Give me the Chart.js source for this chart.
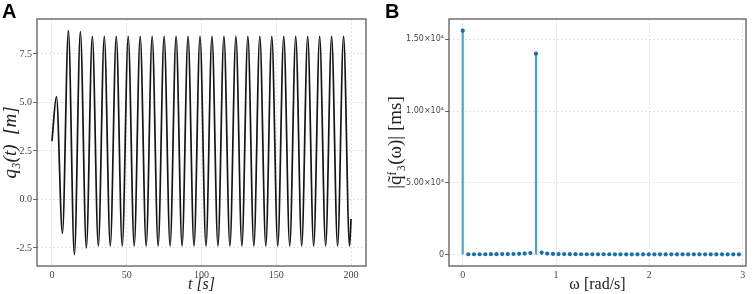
<!DOCTYPE html>
<html>
<head>
<meta charset="utf-8">
<script src="https://cdn.jsdelivr.net/npm/chart.js@4.4.1/dist/chart.umd.min.js"></script>
<style>
  body { margin: 0; background: #fff; }
  #wrap { position: relative; width: 754px; height: 294px; }
  .panel { position: absolute; top: 0; }
  .tag { position: absolute; top: 1px; font: bold 20px 'Liberation Sans', Arial, sans-serif; line-height: 20px; color: #000; }
</style>
</head>
<body>
<div id="wrap">
  <div class="panel" style="left:0"><canvas id="chartA" width="377" height="294"></canvas></div>
  <div class="panel" style="left:377px"><canvas id="chartB" width="377" height="294"></canvas></div>
  <div class="tag" style="left:2px">A</div>
  <div class="tag" style="left:385px">B</div>
</div>
<script>
// A: turning points of q3(t) (t in s, q in m)
const tA = [0, 3, 7, 11, 15, 19, 23, 27, 31, 35, 39, 43, 47, 51, 55, 59, 63, 67, 71, 75, 79, 83, 87, 91, 95,
  99, 103, 107, 111, 115, 119, 123, 127, 131, 135, 139, 143, 147, 151, 155, 159, 163, 167, 171, 175,
  179, 183, 187, 191, 195, 199, 200];
const qA = [3.0, 5.3, -1.75, 8.7, -2.85, 8.65, -2.5, 8.4, -2.4, 8.4, -2.4, 8.4, -2.4, 8.4, -2.4, 8.4, -2.4,
  8.4, -2.4, 8.4, -2.4, 8.4, -2.4, 8.4, -2.4, 8.4, -2.4, 8.4, -2.4, 8.4, -2.4, 8.4, -2.4, 8.4, -2.4,
  8.4, -2.4, 8.4, -2.4, 8.4, -2.4, 8.4, -2.4, 8.4, -2.4, 8.4, -2.4, 8.4, -2.4, 8.4, -2.4, -1.0];
const xTicksA = [0, 50, 100, 150, 200];
const yTicksA = [-2.5, 0, 2.5, 5, 7.5];

// B: spectrum magnitude (omega in rad/s)
const wB = [0, 0.060, 0.121, 0.181, 0.242, 0.302, 0.362, 0.423, 0.483, 0.544, 0.604, 0.664, 0.725,
  0.785, 0.846, 0.906, 0.967, 1.027, 1.087, 1.148, 1.208, 1.269, 1.329, 1.389, 1.450, 1.510, 1.571,
  1.631, 1.691, 1.752, 1.812, 1.873, 1.933, 1.994, 2.054, 2.114, 2.175, 2.235, 2.296, 2.356, 2.416,
  2.477, 2.537, 2.598, 2.658, 2.718, 2.779, 2.839, 2.900, 2.960];
const magB = [15600, 30, 30, 30, 30, 35, 35, 40, 45, 50, 60, 80, 120, 14000, 150, 80, 55, 45, 40, 35,
  35, 30, 30, 30, 30, 30, 30, 25, 25, 25, 25, 25, 25, 25, 25, 25, 25, 25, 25, 25,
  25, 25, 25, 25, 25, 25, 25, 25, 25, 25];
const xTicksB = [0, 1, 2, 3];
const yTicksB = [0, 5000, 10000, 15000];
const yLabelsB = ['0', '5.00×10³', '1.00×10⁴', '1.50×10⁴'];

const serif = "'Liberation Serif', 'DejaVu Serif', serif";
const gridColor = '#e2e2e2';

// full box round the plot area
const frame = {
  id: 'frame',
  afterDraw(chart) {
    const { ctx, chartArea: a } = chart;
    ctx.save();
    ctx.strokeStyle = '#666';
    ctx.lineWidth = 1.4;
    ctx.strokeRect(a.left, a.top, a.right - a.left, a.bottom - a.top);
    ctx.restore();
  }
};

function fixTicks(list) {
  return s => { s.ticks = list.map(v => ({ value: v })); };
}

new Chart(document.getElementById('chartA').getContext('2d'), {
  type: 'line',
  data: {
    datasets: [{
      data: tA.map((t, i) => ({ x: t, y: qA[i] })),
      borderColor: '#151515',
      borderWidth: 1.7,
      pointRadius: 0,
      cubicInterpolationMode: 'monotone',
      fill: false
    }]
  },
  options: {
    responsive: false,
    animation: false,
    layout: { padding: { left: 0, right: 11, top: 19, bottom: 0 } },
    plugins: { legend: { display: false }, tooltip: { enabled: false } },
    scales: {
      x: {
        type: 'linear', min: -10, max: 210,
        afterBuildTicks: fixTicks(xTicksA),
        afterFit: s => { s.height = 28; },
        grid: { color: gridColor, drawTicks: false },
        border: { display: false, dash: [2, 2] },
        ticks: { padding: 3, color: '#444', font: { family: serif, size: 10 }, maxRotation: 0 },
        title: { display: true, text: 't [s]', font: { family: serif, size: 16, style: 'italic' }, padding: 0, color: '#222' }
      },
      y: {
        type: 'linear', min: -3.43, max: 9.3,
        afterBuildTicks: fixTicks(yTicksA),
        afterFit: s => { s.width = 37; },
        grid: { color: gridColor, tickLength: 4, tickColor: '#666' },
        border: { display: false, dash: [2, 2] },
        ticks: { padding: 1, color: '#444', font: { family: serif, size: 10 }, callback: v => v.toFixed(1) },
        title: { display: true, text: 'q₃(t)  [m]', font: { family: serif, size: 19, style: 'italic' }, padding: { top: 0 }, color: '#222' }
      }
    }
  },
  plugins: [frame]
});

const ptsB = wB.map((w, i) => ({ x: w, y: magB[i] }));

new Chart(document.getElementById('chartB').getContext('2d'), {
  data: {
    datasets: [
      {
        type: 'line', data: ptsB, showLine: false, order: 0,
        pointRadius: 2.1, pointBackgroundColor: 'rgb(22,112,170)', pointBorderWidth: 0
      },
      {
        type: 'bar', data: ptsB, order: 1,
        backgroundColor: 'rgb(72,166,206)', barThickness: 1.5, grouped: false
      }
    ]
  },
  options: {
    responsive: false,
    animation: false,
    layout: { padding: { left: 0, right: 8, top: 19, bottom: 0 } },
    plugins: { legend: { display: false }, tooltip: { enabled: false } },
    scales: {
      x: {
        type: 'linear', min: -0.147, max: 3.036, offset: false,
        afterBuildTicks: fixTicks(xTicksB),
        afterFit: s => { s.height = 28; },
        grid: { color: gridColor, drawTicks: false, offset: false },
        border: { display: false, dash: [2, 2] },
        ticks: { padding: 3, color: '#444', font: { family: serif, size: 10 }, maxRotation: 0 },
        title: { display: true, text: 'ω [rad/s]', font: { family: serif, size: 16 }, padding: 0, color: '#222' }
      },
      y: {
        type: 'linear', min: -787, max: 16414,
        afterBuildTicks: fixTicks(yTicksB),
        afterFit: s => { s.width = 72; },
        grid: { color: gridColor, tickLength: 4, tickColor: '#666' },
        border: { display: false, dash: [2, 2] },
        ticks: {
          padding: 1, color: '#444', font: { family: "'DejaVu Sans', sans-serif", size: 8 },
          callback: (v, i) => yLabelsB[i]
        },
        title: { display: true, text: '|q̃ᶠ₃(ω)| [ms]', font: { family: serif, size: 19 }, padding: { top: 8 }, color: '#222' }
      }
    }
  },
  plugins: [frame]
});
</script>
</body>
</html>
